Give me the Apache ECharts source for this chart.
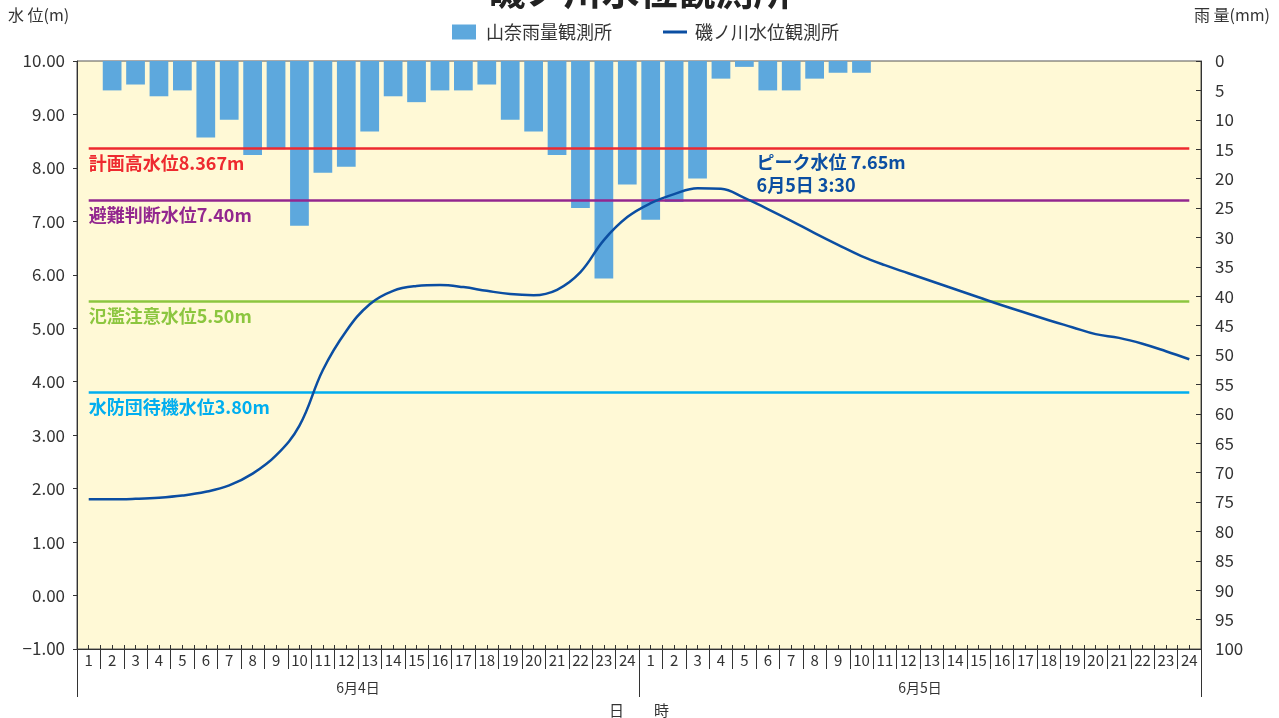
<!DOCTYPE html>
<html><head><meta charset="utf-8">
<script src="https://cdn.jsdelivr.net/npm/echarts@6/dist/echarts.min.js"></script>
<style>html,body{margin:0;padding:0;background:#fff}#c{width:1279px;height:718px}</style>
</head><body><div id="c"></div>
<script>
// ---- data ----
const hourLabels = ['1','2','3','4','5','6','7','8','9','10','11','12','13','14','15','16','17','18','19','20','21','22','23','24'];
const dayLabels = ['6月4日','6月5日'];
const rainfall = [0,5,4,6,5,13,10,16,15,28,19,18,12,6,7,5,5,4,10,12,16,25,37,21,
                  27,24,20,3,1,5,5,3,2,2,0,0,0,0,0,0,0,0,0,0,0,0,0,0];
const waterLevel = [1.80,1.80,1.81,1.83,1.87,1.94,2.06,2.28,2.62,3.18,4.22,4.95,5.45,5.70,5.79,5.81,5.77,5.70,5.64,5.62,5.72,6.05,6.65,7.08,
                    7.34,7.51,7.62,7.61,7.44,7.23,7.01,6.78,6.56,6.35,6.18,6.03,5.88,5.73,5.58,5.43,5.29,5.15,5.02,4.89,4.82,4.71,4.57,4.42];
const thresholdNames = ['計画高水位','避難判断水位','氾濫注意水位','水防団待機水位'];
const thresholdValues = [8.367, 7.40, 5.50, 3.80];
const thresholdTexts = ['8.367m','7.40m','5.50m','3.80m'];
const peakLevel = 7.65;
const peakIndex = 26; // 6月5日 3時 (peak at 3:30)
const peakText = ['ピーク水位 7.65m','6月5日 3:30'];
const seriesNames = ['山奈雨量観測所','磯ノ川水位観測所'];

// ---- styles ----
const thresholdColors = ['#EE2A2F','#93278F','#8CC63F','#00AEEF'];
const FONT = '"Noto Sans CJK JP", "Noto Sans", sans-serif';
const categories = hourLabels.concat(hourLabels);
const halfTicks = [];
categories.forEach((c, i) => { halfTicks.push(i + 'a'); halfTicks.push(i + 'b'); });

const markLineData = thresholdValues.map((v, i) => [
  { coord: [0, v], lineStyle: { color: thresholdColors[i], width: 2.5, type: 'solid' },
    label: { show: true, position: 'insideStartBottom', distance: [0, 6], formatter: thresholdNames[i] + thresholdTexts[i],
             color: thresholdColors[i], fontSize: 18, fontWeight: 'bold', fontFamily: FONT } },
  { coord: [categories.length - 1, v] }
]);

const chart = echarts.init(document.getElementById('c'), null, { renderer: 'canvas' });
chart.setOption({
  animation: false,
  textStyle: { fontFamily: FONT },
  title: { text: '磯ノ川水位観測所', left: 'center', top: -33,
           textStyle: { fontSize: 38, fontWeight: 'bold', color: '#222', fontFamily: FONT } },
  legend: [
    { data: [{ name: seriesNames[0], icon: 'rect' }], left: 447, top: 18, itemWidth: 24, itemHeight: 15, itemGap: 0,
      textStyle: { fontSize: 18, color: '#333', fontFamily: FONT, padding: [0, 0, 0, 5] } },
    { data: [{ name: seriesNames[1], icon: 'rect' }], left: 658, top: 18, itemWidth: 24, itemHeight: 3, itemGap: 0,
      textStyle: { fontSize: 18, color: '#333', fontFamily: FONT, padding: [0, 0, 0, 3] } }
  ],
  graphic: [
    { type: 'text', left: 8, top: 7, style: { text: '水 位(m)', fill: '#333', font: '16px ' + FONT } },
    { type: 'text', left: 1194, top: 7, style: { text: '雨 量(mm)', fill: '#333', font: '16px ' + FONT } }
  ],
  grid: { left: 77, right: 78, top: 61, bottom: 69, show: true, backgroundColor: '#FFF9D6', borderColor: '#555', borderWidth: 1,
          outerBoundsMode: 'none', containLabel: false },
  xAxis: [
    { type: 'category', data: categories, position: 'bottom', boundaryGap: true,
      axisLine: { show: true, onZero: false, lineStyle: { color: '#333', width: 1 } },
      axisTick: { show: true, interval: 0, length: 20, lineStyle: { color: '#333' } },
      axisLabel: { interval: 0, margin: 4, fontSize: 15, color: '#333', fontFamily: FONT },
      splitLine: { show: false } },
    { type: 'category', data: dayLabels, position: 'bottom', offset: 0, gridIndex: 0,
      axisLine: { show: false, onZero: false },
      axisTick: { show: true, interval: 0, length: 48, lineStyle: { color: '#333' } },
      axisLabel: { interval: 0, margin: 32, fontSize: 14, color: '#333', fontFamily: FONT },
      name: '日　　時', nameLocation: 'middle', nameGap: 54,
      nameTextStyle: { fontSize: 15, color: '#333', fontFamily: FONT },
      splitLine: { show: false } },
    { type: 'category', data: halfTicks, position: 'bottom', offset: 0, gridIndex: 0,
      axisLine: { show: false, onZero: false },
      axisTick: { show: true, inside: true, interval: 0, length: 4, lineStyle: { color: '#333' } },
      axisLabel: { show: false }, splitLine: { show: false } }
  ],
  yAxis: [
    { type: 'value', min: -1, max: 10, interval: 1, position: 'left',
      axisLine: { show: true, lineStyle: { color: '#333' } },
      axisTick: { show: true, length: 4, lineStyle: { color: '#333' } },
      axisLabel: { margin: 12, fontSize: 17, color: '#333', fontFamily: FONT,
                   formatter: v => (v < 0 ? '−' : '') + Math.abs(v).toFixed(2) },
      splitLine: { show: false } },
    { type: 'value', min: 0, max: 100, interval: 5, inverse: true, position: 'right',
      axisLine: { show: true, lineStyle: { color: '#333' } },
      axisTick: { show: true, inside: true, length: 5, lineStyle: { color: '#333' } },
      axisLabel: { margin: 14, fontSize: 17, color: '#333', fontFamily: FONT },
      splitLine: { show: false } }
  ],
  series: [
    { name: seriesNames[0], type: 'bar', xAxisIndex: 0, yAxisIndex: 1, data: rainfall,
      barCategoryGap: '20%',
      itemStyle: { color: '#5DA8DD', borderWidth: 0 }, z: 2 },
    { name: seriesNames[1], type: 'line', xAxisIndex: 0, yAxisIndex: 0, data: waterLevel,
      smooth: 0.4, symbol: 'none', showSymbol: false,
      lineStyle: { color: '#0B4EA2', width: 2.5 }, itemStyle: { color: '#0B4EA2' }, z: 5,
      markLine: { silent: true, symbol: ['none', 'none'], z: 4, data: markLineData },
      markPoint: { silent: true, symbol: 'circle', symbolSize: 0,
        data: [{ coord: [peakIndex, peakLevel],
          label: { show: true, position: [59, -36], formatter: peakText.join('\n'), lineHeight: 23, align: 'left',
                   color: '#0B4EA2', fontSize: 18, fontWeight: 'bold', fontFamily: FONT } }] } }
  ]
});
</script>
</body></html>
